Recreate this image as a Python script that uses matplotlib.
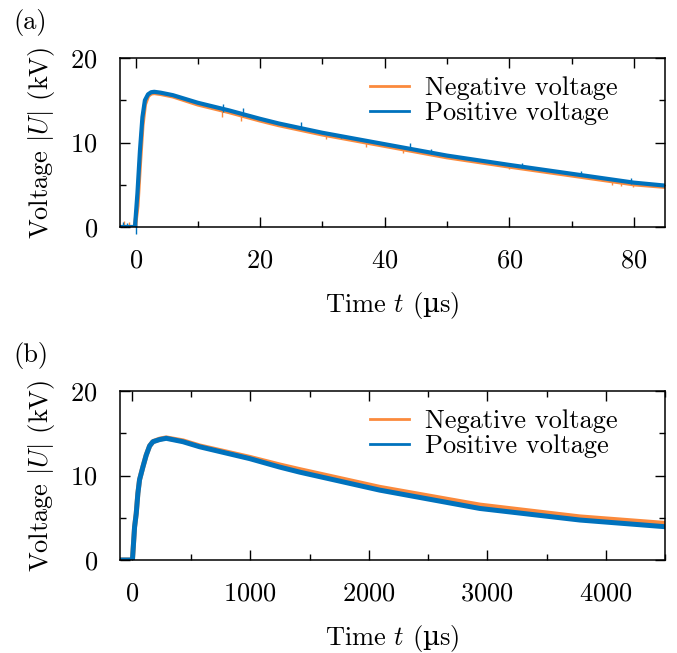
import numpy as np
import matplotlib
matplotlib.use("Agg")
import matplotlib.pyplot as plt
from matplotlib.lines import Line2D

plt.rcParams['font.family'] = ['cmr10', 'DejaVu Serif']
plt.rcParams['mathtext.fontset'] = 'cm'
plt.rcParams['mathtext.rm'] = 'DejaVu Serif'
plt.rcParams['mathtext.it'] = 'cmmi10'
plt.rcParams['axes.formatter.use_mathtext'] = True
plt.rcParams['font.size'] = 19

# ---------------- data (a): short time scale, microseconds ----------------
t_a = [-2.5, -0.1, 0.3, 0.7, 1.1, 1.5, 2.0, 2.5, 3.0, 4.0, 6.0, 10.0, 15.0, 20.0,
       23.0, 30.0, 40.0, 50.0, 60.0, 70.0, 80.0, 85.0]
pos_a = [0.0, 0.0, 4.0, 9.0, 13.0, 15.0, 15.7, 15.95, 16.0, 15.9, 15.6, 14.7, 13.8,
         12.8, 12.25, 11.15, 9.8, 8.45, 7.35, 6.3, 5.25, 4.9]
neg_a = [0.0, 0.0, 2.5, 7.5, 12.0, 14.5, 15.5, 15.8, 15.85, 15.75, 15.45, 14.5, 13.6,
         12.6, 12.05, 10.95, 9.6, 8.25, 7.15, 6.1, 5.05, 4.75]

# spikes (time, low value, high value)
spk_pos_t = [-2.0, -1.3, 0.0, 14.0, 17.3, 26.5, 33.0, 44.0, 47.5, 62.0, 71.5, 79.5]
spk_pos_lo = [0.0, 0.0, -0.8, 13.6, 13.1, 11.7, 10.5, 9.1, 8.6, 7.0, 6.1, 5.1]
spk_pos_hi = [0.6, 0.5, 0.3, 14.6, 14.1, 12.4, 10.9, 9.9, 9.2, 7.6, 6.6, 5.8]
spk_neg_t = [-1.8, -1.0, 13.8, 17.0, 30.5, 37.0, 43.0, 60.0, 76.5, 78.0, 79.8]
spk_neg_lo = [0.0, 0.0, 13.0, 12.6, 10.4, 9.5, 8.7, 6.9, 5.0, 4.8, 4.7]
spk_neg_hi = [0.7, 0.6, 13.9, 13.4, 11.0, 10.2, 9.5, 7.3, 5.6, 5.4, 5.3]

# ---------------- data (b): long time scale, microseconds ----------------
t_b = [-100, 5, 23, 37, 51, 65, 93, 121, 150, 178, 234, 290, 431, 572, 994, 1247,
       1416, 2092, 2937, 3782, 4500]
pos_b = [0.0, 0.0, 3.9, 5.5, 7.9, 9.5, 11.0, 12.4, 13.5, 14.0, 14.25, 14.4, 14.0,
         13.4, 12.0, 11.0, 10.4, 8.27, 6.1, 4.73, 3.94]
neg_b = [0.0, 0.0, 3.9, 5.5, 7.9, 9.5, 11.0, 12.4, 13.5, 14.0, 14.3, 14.45, 14.1,
         13.5, 12.15, 11.25, 10.7, 8.6, 6.5, 5.1, 4.33]

xlim_a = (-2.5, 85)
xlim_b = (-100, 4500)
ylim = (0, 20)
labels = ["Negative voltage", "Positive voltage"]

c_neg = "#fb8a3c"
c_pos = "#0072bd"

fig = plt.figure(figsize=(6.77, 6.53), dpi=100)
L, R = 120 / 677, 665 / 677
ax_a = fig.add_axes([L, 1 - 227 / 653, R - L, (227 - 58) / 653])
ax_b = fig.add_axes([L, 1 - 560 / 653, R - L, (560 - 391) / 653])


def style(ax, xlim, xmaj, xmin):
    ax.set_xlim(*xlim)
    ax.set_ylim(*ylim)
    ax.set_xticks(np.arange(0, xlim[1] + 1e-9, xmaj))
    ax.set_xticks(np.arange(0, xlim[1] + 1e-9, xmin), minor=True)
    ax.set_yticks([0, 10, 20])
    ax.set_yticks([5, 15], minor=True)
    ax.tick_params(which='both', direction='in', top=True, right=True, width=1.0)
    ax.tick_params(which='major', length=7, pad=16)
    ax.tick_params(which='minor', length=4.5)
    for s in ax.spines.values():
        s.set_linewidth(1.1)
    ax.set_xlabel("Time $t$ ($\\mathrm{\u00b5}$s)", labelpad=12,
                  math_fontfamily='custom')
    ax.set_ylabel(r"Voltage $|U|$ (kV)", labelpad=10)


ax_a.plot(t_a, neg_a, color=c_neg, lw=3.0, solid_joinstyle='round')
ax_a.vlines(spk_neg_t, spk_neg_lo, spk_neg_hi, color=c_neg, lw=1.0)
ax_a.plot(t_a, pos_a, color=c_pos, lw=3.0, solid_joinstyle='round')
ax_a.vlines(spk_pos_t, spk_pos_lo, spk_pos_hi, color=c_pos, lw=1.0, clip_on=False)
style(ax_a, xlim_a, 20, 10)

ax_b.plot(t_b, neg_b, color=c_neg, lw=3.6, solid_joinstyle='round')
ax_b.plot(t_b, pos_b, color=c_pos, lw=3.6, solid_joinstyle='round')
style(ax_b, xlim_b, 1000, 500)

for ax in (ax_a, ax_b):
    handles = [Line2D([], [], color=c_neg, lw=2), Line2D([], [], color=c_pos, lw=2)]
    ax.legend(handles, labels, loc='upper right', frameon=False,
              handlelength=1.48, handletextpad=0.6, labelspacing=0.05,
              borderaxespad=0.3, bbox_to_anchor=(0.947, 1.0))

fig.text(13 / 677, 1 - 22 / 653, "(a)", ha='left', va='center')
fig.text(13 / 677, 1 - 356 / 653, "(b)", ha='left', va='center')

fig.savefig("out.png", dpi=100)
